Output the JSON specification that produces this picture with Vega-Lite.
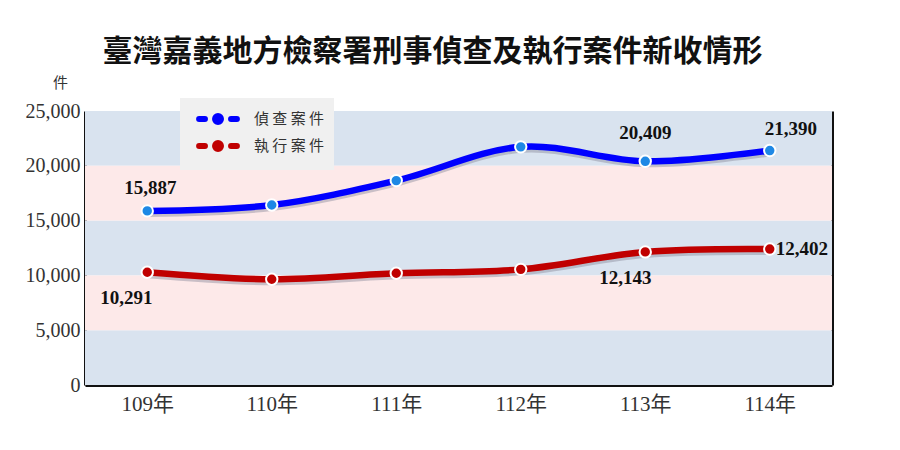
{
  "$schema": "https://vega.github.io/schema/vega-lite/v6.json",
  "width": 747,
  "height": 274,
  "autosize": "none",
  "padding": { "left": 85, "top": 111, "right": 68, "bottom": 65 },
  "background": "white",
  "config": { "view": { "stroke": null }, "font": "Noto Sans CJK TC" },
  "title": {
    "text": "臺灣嘉義地方檢察署刑事偵查及執行案件新收情形",
    "font": "Noto Sans CJK TC",
    "fontSize": 30,
    "fontWeight": "bold",
    "color": "#111",
    "anchor": "middle",
    "dx": -26,
    "offset": 8
  },
  "datasets": {
    "cases": [
      { "year": "109年", "type": "偵查案件", "count": 15887 },
      { "year": "110年", "type": "偵查案件", "count": 16420 },
      { "year": "111年", "type": "偵查案件", "count": 18650 },
      { "year": "112年", "type": "偵查案件", "count": 21730 },
      { "year": "113年", "type": "偵查案件", "count": 20409 },
      { "year": "114年", "type": "偵查案件", "count": 21390 },
      { "year": "109年", "type": "執行案件", "count": 10291 },
      { "year": "110年", "type": "執行案件", "count": 9650 },
      { "year": "111年", "type": "執行案件", "count": 10200 },
      { "year": "112年", "type": "執行案件", "count": 10550 },
      { "year": "113年", "type": "執行案件", "count": 12143 },
      { "year": "114年", "type": "執行案件", "count": 12402 }
    ],
    "bands": [
      { "lo": 0, "hi": 5000, "band": "odd" },
      { "lo": 5000, "hi": 10000, "band": "even" },
      { "lo": 10000, "hi": 15000, "band": "odd" },
      { "lo": 15000, "hi": 20000, "band": "even" },
      { "lo": 20000, "hi": 25000, "band": "odd" }
    ]
  },
  "layer": [
    {
      "data": { "name": "bands" },
      "transform": [{ "filter": "datum.band == 'odd'" }],
      "mark": { "type": "rect", "color": "#d9e3ef" },
      "encoding": {
        "y": {
          "field": "lo",
          "type": "quantitative",
          "scale": { "domain": [0, 25000] },
          "axis": {
            "title": "件",
            "titleAngle": 0,
            "titleX": -25,
            "titleY": -29,
            "titleAlign": "center",
            "titleBaseline": "middle",
            "titleFont": "Noto Sans CJK TC",
            "titleFontSize": 15,
            "titleFontWeight": "normal",
            "titleColor": "#333",
            "values": [0, 5000, 10000, 15000, 20000, 25000],
            "format": ",d",
            "labelFont": "Liberation Serif",
            "labelFontSize": 20,
            "labelColor": "#333",
            "labelPadding": 5,
            "ticks": false,
            "grid": false,
            "domainColor": "#111",
            "domainWidth": 3
          }
        },
        "y2": { "field": "hi" }
      }
    },
    {
      "data": { "name": "bands" },
      "transform": [{ "filter": "datum.band == 'even'" }],
      "mark": { "type": "rect", "color": "#fde9e9" },
      "encoding": {
        "y": {
          "field": "lo",
          "type": "quantitative",
          "scale": { "domain": [0, 25000] },
          "axis": {
            "orient": "right",
            "title": null,
            "labels": false,
            "ticks": false,
            "grid": false,
            "domainColor": "#111",
            "domainWidth": 3
          }
        },
        "y2": { "field": "hi" }
      }
    },
    {
      "data": { "name": "cases" },
      "encoding": {
        "x": {
          "field": "year",
          "type": "ordinal",
          "sort": null,
          "scale": { "type": "point", "padding": 0.5 },
          "axis": {
            "title": null,
            "labelAngle": 0,
            "labelFont": "Liberation Serif, Noto Sans CJK TC",
            "labelFontSize": 21,
            "labelColor": "#333",
            "labelPadding": 8,
            "ticks": false,
            "domainColor": "#111",
            "domainWidth": 3
          }
        },
        "y": {
          "field": "count",
          "type": "quantitative",
          "scale": { "domain": [0, 25000] },
          "axis": null
        }
      },
      "layer": [
        {
          "mark": {
            "type": "line",
            "interpolate": "cardinal",
            "stroke": "#8a8a9c",
            "strokeWidth": 6,
            "opacity": 0.45,
            "yOffset": 3
          },
          "encoding": { "detail": { "field": "type" } }
        },
        {
          "mark": {
            "type": "line",
            "interpolate": "cardinal",
            "strokeWidth": 6.5,
            "strokeCap": "round"
          },
          "encoding": {
            "color": {
              "field": "type",
              "type": "nominal",
              "scale": {
                "domain": ["偵查案件", "執行案件"],
                "range": ["#0000ff", "#c00000"]
              },
              "legend": {
                "title": null,
                "orient": "none",
                "legendX": 95,
                "legendY": -13,
                "fillColor": "#f0f0f0",
                "padding": 9,
                "symbolType": "M-2.1,0L-1.45,0M1.45,0L2.1,0M0.33,0A0.33,0.33,0,1,1,-0.33,0A0.33,0.33,0,1,1,0.33,0",
                "symbolSize": 324,
                "symbolOffset": 17,
                "symbolStrokeWidth": 6,
                "labelFont": "Noto Sans CJK TC",
                "labelFontSize": 15,
                "labelColor": "#333",
                "labelOffset": 24,
                "rowPadding": -6,
                "labelExpr": "join(split(datum.label, ''), ' ')",
                "encode": {
                  "symbols": { "update": { "strokeCap": { "value": "round" } } }
                }
              }
            }
          }
        },
        {
          "mark": {
            "type": "circle",
            "size": 130,
            "stroke": "white",
            "strokeWidth": 2,
            "opacity": 1
          },
          "encoding": {
            "fill": {
              "field": "type",
              "type": "nominal",
              "scale": {
                "domain": ["偵查案件", "執行案件"],
                "range": ["#1e88e5", "#c00000"]
              },
              "legend": null
            }
          }
        },
        {
          "transform": [{ "filter": "datum.type == '偵查案件' && datum.year == '109年'" }],
          "mark": { "type": "text", "font": "Liberation Serif", "fontWeight": "bold", "fontSize": 19, "color": "#111", "dx": 3, "dy": -23 },
          "encoding": { "text": { "field": "count", "type": "quantitative", "format": "," } }
        },
        {
          "transform": [{ "filter": "datum.type == '偵查案件' && datum.year == '113年'" }],
          "mark": { "type": "text", "font": "Liberation Serif", "fontWeight": "bold", "fontSize": 19, "color": "#111", "dx": 0, "dy": -28 },
          "encoding": { "text": { "field": "count", "type": "quantitative", "format": "," } }
        },
        {
          "transform": [{ "filter": "datum.type == '偵查案件' && datum.year == '114年'" }],
          "mark": { "type": "text", "font": "Liberation Serif", "fontWeight": "bold", "fontSize": 19, "color": "#111", "dx": 21, "dy": -22 },
          "encoding": { "text": { "field": "count", "type": "quantitative", "format": "," } }
        },
        {
          "transform": [{ "filter": "datum.type == '執行案件' && datum.year == '109年'" }],
          "mark": { "type": "text", "font": "Liberation Serif", "fontWeight": "bold", "fontSize": 19, "color": "#111", "dx": -21, "dy": 26 },
          "encoding": { "text": { "field": "count", "type": "quantitative", "format": "," } }
        },
        {
          "transform": [{ "filter": "datum.type == '執行案件' && datum.year == '113年'" }],
          "mark": { "type": "text", "font": "Liberation Serif", "fontWeight": "bold", "fontSize": 19, "color": "#111", "dx": -20, "dy": 26 },
          "encoding": { "text": { "field": "count", "type": "quantitative", "format": "," } }
        },
        {
          "transform": [{ "filter": "datum.type == '執行案件' && datum.year == '114年'" }],
          "mark": { "type": "text", "font": "Liberation Serif", "fontWeight": "bold", "fontSize": 19, "color": "#111", "align": "left", "dx": 6, "dy": 0 },
          "encoding": { "text": { "field": "count", "type": "quantitative", "format": "," } }
        }
      ]
    }
  ],
  "resolve": { "axis": { "y": "independent" } }
}
